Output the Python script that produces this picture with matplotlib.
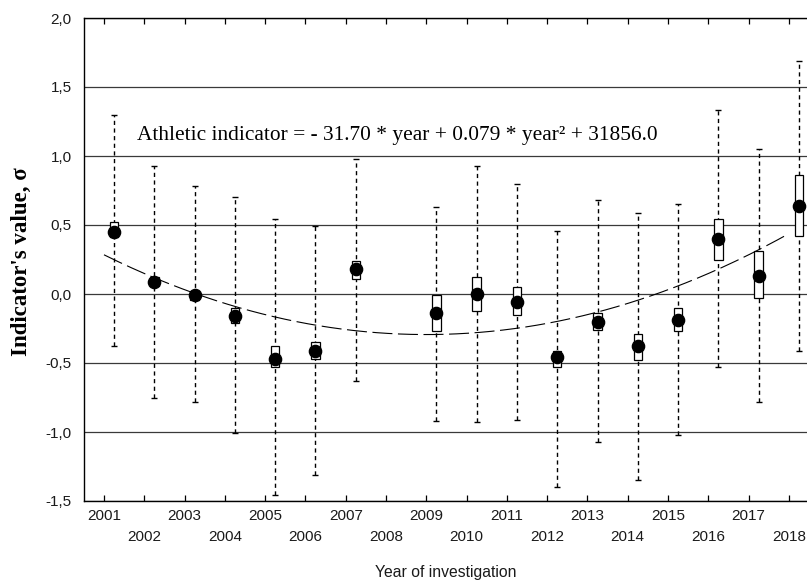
import numpy as np
import matplotlib
matplotlib.use("Agg")
import matplotlib.pyplot as plt
from matplotlib.ticker import FixedLocator, FuncFormatter

# ---- data ----
years = [2001, 2002, 2003, 2004, 2005, 2006, 2007, 2008, 2009,
         2010, 2011, 2012, 2013, 2014, 2015, 2016, 2017, 2018]
nan = np.nan
mean_val = [0.45, 0.09, -0.01, -0.16, -0.47, -0.41, 0.18, nan, -0.14,
            0.00, -0.06, -0.46, -0.20, -0.38, -0.19, 0.40, 0.13, 0.64]
box_low = [0.41, 0.06, -0.04, -0.21, -0.53, -0.47, 0.11, nan, -0.27,
           -0.12, -0.15, -0.53, -0.26, -0.48, -0.27, 0.25, -0.03, 0.42]
box_high = [0.52, 0.12, 0.02, -0.10, -0.38, -0.35, 0.24, nan, -0.01,
            0.12, 0.05, -0.41, -0.14, -0.29, -0.10, 0.54, 0.31, 0.86]
whisk_low = [-0.38, -0.75, -0.78, -1.01, -1.46, -1.31, -0.63, nan, -0.92,
             -0.93, -0.91, -1.40, -1.07, -1.35, -1.02, -0.53, -0.78, -0.41]
whisk_high = [1.30, 0.93, 0.78, 0.70, 0.54, 0.49, 0.98, nan, 0.63,
              0.93, 0.80, 0.46, 0.68, 0.59, 0.65, 1.33, 1.05, 1.69]
y_ticks = [-1.5, -1.0, -0.5, 0.0, 0.5, 1.0, 1.5, 2.0]
equation = "Athletic indicator = - 31.70 * year + 0.079 * year\u00b2 + 31856.0"

# ---- layout ----
fig = plt.figure(figsize=(8.07, 5.83), dpi=100)
ax = fig.add_axes([84/807, 1 - 501/583, 1 - 84/807, (501 - 18)/583])

idx = np.arange(len(years), dtype=float)
m = np.array(mean_val)
bl = np.array(box_low)
bh = np.array(box_high)
wl = np.array(whisk_low)
wh = np.array(whisk_high)
ok = ~np.isnan(m)
xd = idx[ok] + 0.25  # data marks sit a bit right of their tick

# grid lines
for v in y_ticks:
    ax.axhline(v, color="#3a3a3a", lw=0.9, zorder=1)

# quadratic trend line (least squares fit of the means)
coef = np.polyfit(idx[ok], m[ok], 2)
xt = np.linspace(idx[0], idx[-1], 300)
ax.plot(xt, np.polyval(coef, xt), color="black", lw=0.8,
        dashes=(18, 5), zorder=2)

# whiskers
eb = ax.errorbar(xd, m[ok], yerr=[m[ok] - wl[ok], wh[ok] - m[ok]], fmt="none",
                 ecolor="black", elinewidth=1.0, capsize=2.2, capthick=1.0,
                 zorder=3)
for lc in eb[2]:
    lc.set_linestyle((0, (3, 2.5)))

# boxes
ax.bar(xd, bh[ok] - bl[ok], bottom=bl[ok], width=0.21, facecolor="white",
       edgecolor="black", linewidth=0.9, zorder=4)

# means
ax.plot(xd, m[ok], "o", color="black", markersize=8.8, zorder=5)

# equation
ax.text(0.83, 1.145, equation, fontsize=15.4, family="Liberation Serif",
        va="center", ha="left", zorder=6)

# axes ranges / ticks
ax.set_xlim(-0.496, 17.45)
ax.set_ylim(-1.5, 2.0)
ax.yaxis.set_major_locator(FixedLocator(y_ticks))
ax.yaxis.set_major_formatter(FuncFormatter(lambda v, p: f"{v:.1f}".replace(".", ",")))

ax.set_xticks(idx[::2])
ax.set_xticklabels([str(y) for y in years[::2]])
ax.set_xticks(idx[1::2], minor=True)
ax.set_xticklabels([str(y) for y in years[1::2]], minor=True)

ax.tick_params(axis="x", which="both", direction="in", length=4, width=0.9,
               top=True, bottom=True, labelsize=11, colors="black")
ax.tick_params(axis="x", which="major", pad=6)
ax.tick_params(axis="x", which="minor", pad=21)
ax.tick_params(axis="y", direction="in", length=0, pad=9, labelsize=11)
for lab in ax.get_xticklabels(which="both") + ax.get_yticklabels():
    lab.set_family("Liberation Sans")
    lab.set_color("#1a1a1a")

for s in ["left", "top", "bottom"]:
    ax.spines[s].set_linewidth(1.0)
    ax.spines[s].set_color("black")
ax.spines["right"].set_visible(False)

ax.set_ylabel("Indicator's value, \u03c3", fontsize=16.5, fontweight="bold",
              family="Liberation Serif")
ax.yaxis.set_label_coords(-0.072, 0.495)

fig.text(446/807, 1 - 573/583, "Year of investigation", fontsize=11.3,
         family="Liberation Sans", ha="center", va="center", color="#1a1a1a")

fig.savefig("out.png", dpi=100)
